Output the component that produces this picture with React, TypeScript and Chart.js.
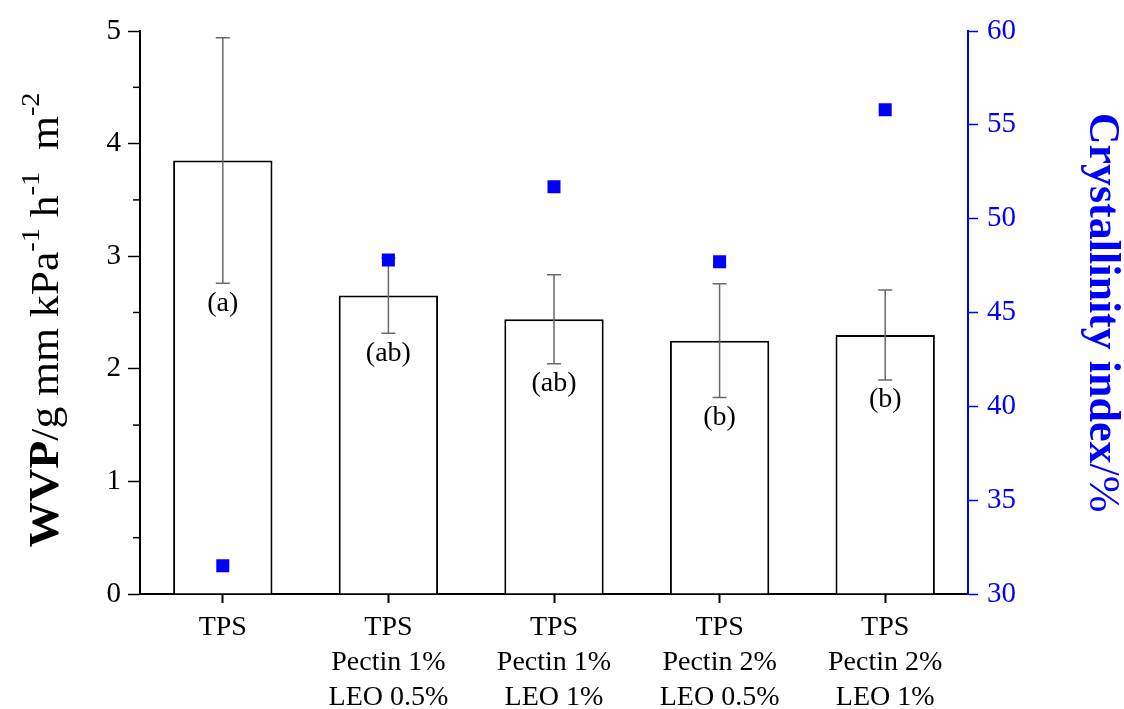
import { useEffect, useRef } from "react";
import { Chart, registerables } from "chart.js";

Chart.register(...registerables);

// Film formulations (multi-line category labels)
const categories: string[][] = [
  ["TPS"],
  ["TPS", "Pectin 1%", "LEO 0.5%"],
  ["TPS", "Pectin 1%", "LEO 1%"],
  ["TPS", "Pectin 2%", "LEO 0.5%"],
  ["TPS", "Pectin 2%", "LEO 1%"],
];

// Water vapour permeability (g mm kPa-1 h-1 m-2), mean and standard deviation
const wvp = [3.85, 2.65, 2.44, 2.25, 2.3];
const wvpSd = [1.09, 0.335, 0.395, 0.505, 0.4];

// Crystallinity index (%)
const crystallinity = [31.5, 47.8, 51.7, 47.7, 55.8];

// Significance letters for WVP
const groups = ["(a)", "(ab)", "(ab)", "(b)", "(b)"];

const SERIF = "'Liberation Serif', 'Times New Roman', serif";
const BLUE = "#0000ff";

type Seg = { text: string; size: number; bold?: boolean; dy?: number };

// Draws mixed-style text centred on (cx, cy), rotated, optionally stretched
// along its direction to a given length
function drawRich(
  ctx: CanvasRenderingContext2D,
  segs: Seg[],
  cx: number,
  cy: number,
  angle: number,
  color: string,
  length?: number
) {
  ctx.save();
  ctx.translate(cx, cy);
  ctx.rotate(angle);
  ctx.fillStyle = color;
  ctx.textBaseline = "alphabetic";
  ctx.textAlign = "left";
  const fontOf = (s: Seg) => `${s.bold ? "bold " : ""}${s.size}px ${SERIF}`;
  let total = 0;
  for (const s of segs) {
    ctx.font = fontOf(s);
    total += ctx.measureText(s.text).width;
  }
  if (length) ctx.scale(length / total, 1);
  let x = -total / 2;
  for (const s of segs) {
    ctx.font = fontOf(s);
    ctx.fillText(s.text, x, s.dy || 0);
    x += ctx.measureText(s.text).width;
  }
  ctx.restore();
}

// Error bars go right after the bars, so the markers are painted over them
const errorBarsPlugin = {
  id: "errorBars",
  afterDatasetDraw(chart: any, args: any) {
    if (args.index !== 0) return;
    const ctx = chart.ctx as CanvasRenderingContext2D;
    const y = chart.scales.y;
    const meta = chart.getDatasetMeta(0);
    ctx.save();
    ctx.strokeStyle = "#6a6a6a";
    ctx.lineWidth = 1.5;
    meta.data.forEach((bar: any, i: number) => {
      const x = bar.x;
      const hi = y.getPixelForValue(wvp[i] + wvpSd[i]);
      const lo = y.getPixelForValue(wvp[i] - wvpSd[i]);
      ctx.beginPath();
      ctx.moveTo(x, hi);
      ctx.lineTo(x, lo);
      ctx.moveTo(x - 7, hi);
      ctx.lineTo(x + 7, hi);
      ctx.moveTo(x - 7, lo);
      ctx.lineTo(x + 7, lo);
      ctx.stroke();
    });
    ctx.restore();
  },
  afterDatasetsDraw(chart: any) {
    const ctx = chart.ctx as CanvasRenderingContext2D;
    const y = chart.scales.y;
    const meta = chart.getDatasetMeta(0);
    ctx.save();
    ctx.fillStyle = "#000";
    ctx.font = `28px ${SERIF}`;
    ctx.textAlign = "center";
    ctx.textBaseline = "middle";
    meta.data.forEach((bar: any, i: number) => {
      const lo = y.getPixelForValue(wvp[i] - wvpSd[i]);
      ctx.fillText(groups[i], bar.x, lo + 20);
    });
    ctx.restore();
  },
};

// Minor ticks on the WVP axis and the two axis titles
const decorPlugin = {
  id: "decor",
  afterDraw(chart: any) {
    const ctx = chart.ctx as CanvasRenderingContext2D;
    const y = chart.scales.y;
    const area = chart.chartArea;
    ctx.save();
    ctx.strokeStyle = "#000";
    ctx.lineWidth = 1.5;
    for (let v = 0.5; v < 5; v += 1) {
      const py = y.getPixelForValue(v);
      ctx.beginPath();
      ctx.moveTo(area.left, py);
      ctx.lineTo(area.left - 7, py);
      ctx.stroke();
    }
    ctx.restore();

    drawRich(
      ctx,
      [
        { text: "WVP", size: 42, bold: true },
        { text: "/g mm kPa", size: 40 },
        { text: "-1", size: 26, dy: -19 },
        { text: " h", size: 40 },
        { text: "-1", size: 26, dy: -19 },
        { text: "  m", size: 40 },
        { text: "-2", size: 26, dy: -19 },
      ],
      58,
      320,
      -Math.PI / 2,
      "#000",
      455
    );
    drawRich(
      ctx,
      [
        { text: "Crystallinity index", size: 44, bold: true },
        { text: "/%", size: 44 },
      ],
      1090,
      (area.top + area.bottom) / 2,
      Math.PI / 2,
      BLUE
    );
  },
};

export default function App() {
  const canvasRef = useRef<HTMLCanvasElement | null>(null);

  useEffect(() => {
    if (!canvasRef.current) return;
    const chart = new Chart(canvasRef.current, {
      type: "bar",
      data: {
        labels: categories,
        datasets: [
          {
            type: "bar",
            label: "WVP",
            data: wvp,
            yAxisID: "y",
            backgroundColor: "#ffffff",
            borderColor: "#000000",
            borderWidth: 2,
            barPercentage: 0.6,
            categoryPercentage: 1,
            order: 1,
          },
          {
            type: "line",
            label: "Crystallinity index",
            data: crystallinity,
            yAxisID: "y1",
            showLine: false,
            pointStyle: "rect",
            pointRadius: 9.2,
            pointBorderWidth: 0,
            pointBackgroundColor: BLUE,
            borderColor: BLUE,
            order: 0,
          },
        ],
      },
      options: {
        animation: false,
        responsive: true,
        maintainAspectRatio: false,
        layout: { padding: { top: 31, left: 0, right: 0, bottom: 0 } },
        plugins: { legend: { display: false }, tooltip: { enabled: false } },
        scales: {
          x: {
            grid: {
              drawOnChartArea: false,
              offset: false,
              tickLength: 9,
              tickColor: "#000",
              tickWidth: 2,
            },
            border: { display: true, color: "#000", width: 2 },
            ticks: {
              color: "#000",
              font: { family: SERIF, size: 28, lineHeight: 1.25 },
              padding: 7,
              maxRotation: 0,
              autoSkip: false,
            },
            afterFit: (s: any) => {
              s.height = 115;
            },
          },
          y: {
            position: "left",
            min: 0,
            max: 5,
            ticks: {
              stepSize: 1,
              color: "#000",
              font: { family: SERIF, size: 29 },
              padding: 7,
            },
            grid: {
              drawOnChartArea: false,
              tickLength: 12,
              tickColor: "#000",
              tickWidth: 1.5,
            },
            border: { display: true, color: "#000", width: 2 },
            afterFit: (s: any) => {
              s.width = 140;
            },
          },
          y1: {
            position: "right",
            min: 30,
            max: 60,
            ticks: {
              stepSize: 5,
              color: BLUE,
              font: { family: SERIF, size: 29 },
              padding: 9,
            },
            grid: {
              drawOnChartArea: false,
              tickLength: 10,
              tickColor: BLUE,
              tickWidth: 1.5,
            },
            border: { display: true, color: BLUE, width: 2 },
            afterFit: (s: any) => {
              s.width = 156;
            },
          },
        },
      },
      plugins: [errorBarsPlugin, decorPlugin],
    });
    return () => chart.destroy();
  }, []);

  return (
    <div
      style={{
        position: "fixed",
        left: 0,
        top: 0,
        width: 1124,
        height: 709,
        background: "#fff",
      }}
    >
      <canvas ref={canvasRef} />
    </div>
  );
}
